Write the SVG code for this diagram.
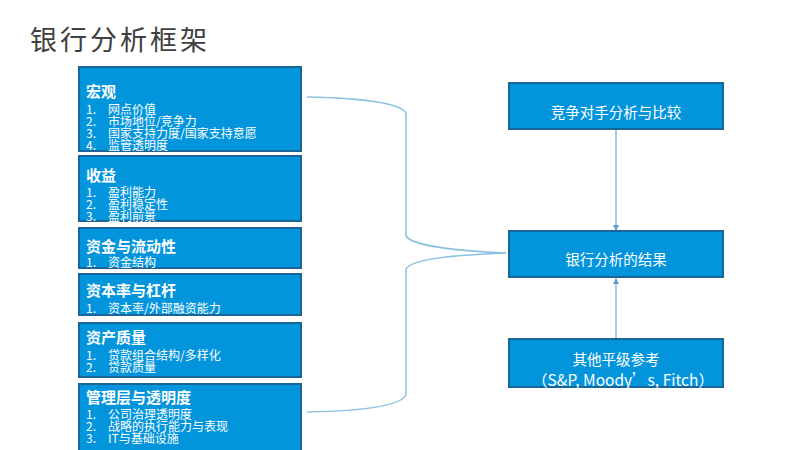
<svg xmlns="http://www.w3.org/2000/svg" width="800" height="450" viewBox="0 0 800 450">
<style>
.box{fill:#0395DB;stroke:#1A6597;stroke-width:2}
.t{font-family:"Noto Sans CJK SC","Liberation Sans",sans-serif;fill:#fff}
.h{font-size:15px;font-weight:bold}
.i{font-size:12px}
.c{font-size:14.5px;text-anchor:middle}
.conn{fill:none;stroke:#8CC2DF;stroke-width:1.5}
.arr{fill:none;stroke:#7AB4D4;stroke-width:1.3}
</style>
<defs>
<marker id="ah" viewBox="0 0 6 6" refX="5" refY="3" markerWidth="5" markerHeight="5" orient="auto">
<path d="M0,0 L6,3 L0,6 z" fill="#5E9FC6"/>
</marker>
</defs>
<rect width="800" height="450" fill="#fff"/>
<text x="30" y="50" font-family="Noto Sans CJK SC,Liberation Sans,sans-serif" font-size="27" letter-spacing="3" fill="#404040">银行分析框架</text>

<g id="connectors">
<path class="conn" d="M307,97 C360,98 400,103 406,113 L406,236 C412,246 460,251 506,253"/>
<path class="conn" d="M506,253 C460,255 412,258 406,269 L406,395 C400,406 360,411 307,412"/>
<line class="arr" x1="616" y1="130" x2="616" y2="230" marker-end="url(#ah)"/>
<line class="arr" x1="616" y1="339" x2="616" y2="279" marker-end="url(#ah)"/>
</g>

<g id="n-macro">
<rect class="box" x="79" y="67" width="222" height="84"/>
<text class="t h" x="86" y="97">宏观</text>
<text class="t i"><tspan x="86" y="114">1.</tspan><tspan x="108" y="114">网点价值</tspan><tspan x="86" y="126">2.</tspan><tspan x="108" y="126">市场地位/竞争力</tspan><tspan x="86" y="138">3.</tspan><tspan x="108" y="138">国家支持力度/国家支持意愿</tspan><tspan x="86" y="150">4.</tspan><tspan x="108" y="150">监管透明度</tspan></text>
</g>

<g id="n-earnings">
<rect class="box" x="79" y="156" width="222" height="65"/>
<text class="t h" x="86" y="181">收益</text>
<text class="t i"><tspan x="86" y="197">1.</tspan><tspan x="108" y="197">盈利能力</tspan><tspan x="86" y="209">2.</tspan><tspan x="108" y="209">盈利稳定性</tspan><tspan x="86" y="221">3.</tspan><tspan x="108" y="221">盈利前景</tspan></text>
</g>

<g id="n-funding">
<rect class="box" x="79" y="228" width="222" height="40"/>
<text class="t h" x="86" y="252">资金与流动性</text>
<text class="t i"><tspan x="86" y="267">1.</tspan><tspan x="108" y="267">资金结构</tspan></text>
</g>

<g id="n-capital">
<rect class="box" x="79" y="274" width="222" height="41"/>
<text class="t h" x="86" y="296">资本率与杠杆</text>
<text class="t i"><tspan x="86" y="313">1.</tspan><tspan x="108" y="313">资本率/外部融资能力</tspan></text>
</g>

<g id="n-asset">
<rect class="box" x="79" y="323" width="222" height="54"/>
<text class="t h" x="86" y="343">资产质量</text>
<text class="t i"><tspan x="86" y="360">1.</tspan><tspan x="108" y="360">贷款组合结构/多样化</tspan><tspan x="86" y="372">2.</tspan><tspan x="108" y="372">贷款质量</tspan></text>
</g>

<g id="n-mgmt">
<rect class="box" x="79" y="384" width="222" height="70"/>
<text class="t h" x="86" y="403">管理层与透明度</text>
<text class="t i"><tspan x="86" y="419">1.</tspan><tspan x="108" y="419">公司治理透明度</tspan><tspan x="86" y="431">2.</tspan><tspan x="108" y="431">战略的执行能力与表现</tspan><tspan x="86" y="443">3.</tspan><tspan x="108" y="443">IT与基础设施</tspan></text>
</g>

<g id="n-peer">
<rect class="box" x="509" y="83" width="214" height="46"/>
<text class="t c" x="616" y="118">竞争对手分析与比较</text>
</g>

<g id="n-result">
<rect class="box" x="509" y="231" width="214" height="46"/>
<text class="t c" x="616" y="265">银行分析的结果</text>
</g>

<g id="n-ratings">
<rect class="box" x="509" y="339" width="214" height="48"/>
<text class="t c" x="616" y="365">其他平级参考</text>
<text class="t c" x="623" y="386" style="font-size:15.5px">（S&amp;P, Moody’s, Fitch）</text>
</g>
</svg>
